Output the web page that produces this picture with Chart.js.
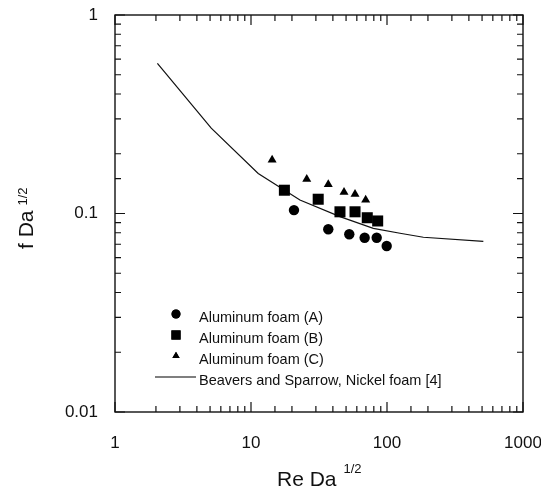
<!DOCTYPE html>
<html>
<head>
<meta charset="utf-8">
<script src="https://cdn.jsdelivr.net/npm/chart.js@4/dist/chart.umd.min.js"></script>
<style>
html,body{margin:0;padding:0;background:#fff;}
#wrap{width:541px;height:489px;position:relative;}
</style>
</head>
<body>
<div id="wrap"><canvas id="c" width="541" height="489"></canvas></div>
<script>
// ---- data ----
const reA = [20.7, 37.0, 52.8, 68.5, 84.0, 99.5];
const fA  = [0.104, 0.0833, 0.0786, 0.0755, 0.0755, 0.0686];
const reB = [17.6, 31.2, 45.1, 58.2, 71.6, 85.4];
const fB  = [0.131, 0.118, 0.102, 0.102, 0.0952, 0.0917];
const reC = [14.3, 25.7, 37.0, 48.3, 58.2, 69.7];
const fC  = [0.186, 0.149, 0.140, 0.128, 0.125, 0.117];
const reLine = [2.05, 5.1, 11.3, 22.9, 45.1, 79.3, 124.6, 185, 511];
const fLine  = [0.571, 0.269, 0.159, 0.117, 0.0964, 0.0842, 0.0795, 0.0759, 0.0724];
const seriesLabels = ['Aluminum foam (A)', 'Aluminum foam (B)', 'Aluminum foam (C)', 'Beavers and Sparrow, Nickel foam [4]'];
const xTickLabels = ['1', '10', '100', '1000'];
const yTickLabels = ['0.01', '0.1', '1'];

const pts = (xs, ys) => xs.map((x, i) => ({x: x, y: ys[i]}));
const FONT = "'Liberation Sans', Arial, sans-serif";
const isPow10 = v => Math.abs(Math.log10(v) - Math.round(Math.log10(v))) < 1e-6;

const framePlugin = {
  id: 'frame',
  afterDraw(chart) {
    const ctx = chart.ctx, a = chart.chartArea;
    const xs = chart.scales.x, ys = chart.scales.y;
    ctx.save();
    ctx.strokeStyle = '#111';
    ctx.lineWidth = 1.4;
    ctx.strokeRect(a.left, a.top, a.right - a.left, a.bottom - a.top);
    ctx.lineWidth = 1.2;
    ctx.beginPath();
    xs.ticks.forEach(t => {
      const p = xs.getPixelForValue(t.value);
      if (p < a.left - 0.5 || p > a.right + 0.5) return;
      const len = isPow10(t.value) ? 10 : 6;
      ctx.moveTo(p, a.bottom); ctx.lineTo(p, a.bottom - len);
      ctx.moveTo(p, a.top); ctx.lineTo(p, a.top + len);
    });
    ys.ticks.forEach(t => {
      const p = ys.getPixelForValue(t.value);
      if (p < a.top - 0.5 || p > a.bottom + 0.5) return;
      const len = isPow10(t.value) ? 10 : 6;
      ctx.moveTo(a.left, p); ctx.lineTo(a.left + len, p);
      ctx.moveTo(a.right, p); ctx.lineTo(a.right - len, p);
    });
    ctx.stroke();

    // axis titles with superscripts
    ctx.fillStyle = '#111';
    ctx.textBaseline = 'alphabetic';
    ctx.textAlign = 'left';
    ctx.font = '21px ' + FONT;
    const xt = 'Re Da';
    const xw = ctx.measureText(xt).width;
    ctx.fillText(xt, 277, 486);
    ctx.font = '13px ' + FONT;
    ctx.fillText('1/2', 277 + xw + 7, 473);

    ctx.save();
    ctx.translate(33, 249);
    ctx.rotate(-Math.PI / 2);
    ctx.font = '21px ' + FONT;
    const yt = 'f Da';
    const yw = ctx.measureText(yt).width;
    ctx.fillText(yt, 0, 0);
    ctx.font = '13px ' + FONT;
    ctx.fillText('1/2', yw + 5, -6);
    ctx.restore();

    // legend
    const rows = [314, 335, 356, 377];
    ctx.font = '14.5px ' + FONT;
    ctx.textBaseline = 'middle';
    chart.data.datasets.forEach((ds, i) => {
      const y = rows[i];
      ctx.fillStyle = '#000';
      ctx.strokeStyle = '#000';
      if (ds.showLine) {
        ctx.lineWidth = 1.2;
        ctx.beginPath(); ctx.moveTo(155, y); ctx.lineTo(196, y); ctx.stroke();
      } else {
        const r = ds.pointStyle === 'rect' ? 6.5 : (ds.pointStyle === 'triangle' ? 4.2 : 4.5);
        Chart.helpers.drawPoint(ctx, {pointStyle: ds.pointStyle, radius: r, rotation: 0, borderWidth: 0}, 176, y);
        ctx.fill();
      }
      ctx.fillStyle = '#111';
      ctx.fillText(ds.label, 199, y + 4);
    });
    ctx.restore();
  }
};

new Chart(document.getElementById('c'), {
  type: 'scatter',
  data: {
    datasets: [
      {label: seriesLabels[0], data: pts(reA, fA), pointStyle: 'circle', pointRadius: 5.2, backgroundColor: '#000', borderColor: '#000', borderWidth: 0},
      {label: seriesLabels[1], data: pts(reB, fB), pointStyle: 'rect', pointRadius: 7.8, backgroundColor: '#000', borderColor: '#000', borderWidth: 0},
      {label: seriesLabels[2], data: pts(reC, fC), pointStyle: 'triangle', pointRadius: 5.2, backgroundColor: '#000', borderColor: '#000', borderWidth: 0},
      {label: seriesLabels[3], data: pts(reLine, fLine), showLine: true, pointRadius: 0, borderColor: '#111', borderWidth: 1.2, tension: 0, backgroundColor: '#111'}
    ]
  },
  options: {
    responsive: false,
    animation: false,
    layout: {padding: {left: 0, top: 15, right: 18, bottom: 0}},
    plugins: {legend: {display: false}, tooltip: {enabled: false}, title: {display: false}},
    scales: {
      x: {
        type: 'logarithmic', min: 1, max: 1000,
        afterFit: s => { s.height = 77; s.paddingLeft = 0; s.paddingRight = 0; },
        grid: {display: false, drawTicks: false},
        border: {display: false},
        ticks: {
          autoSkip: false, maxRotation: 0, padding: 21, color: '#111',
          font: {family: FONT, size: 17},
          callback: v => isPow10(v) ? xTickLabels[Math.round(Math.log10(v))] : ''
        }
      },
      y: {
        type: 'logarithmic', min: 0.01, max: 1,
        afterFit: s => { s.width = 115; s.paddingTop = 0; s.paddingBottom = 0; },
        grid: {display: false, drawTicks: false},
        border: {display: false},
        ticks: {
          autoSkip: false, padding: 17, color: '#111',
          font: {family: FONT, size: 17},
          callback: v => isPow10(v) ? yTickLabels[Math.round(Math.log10(v)) + 2] : ''
        }
      }
    }
  },
  plugins: [framePlugin]
});
</script>
</body>
</html>
